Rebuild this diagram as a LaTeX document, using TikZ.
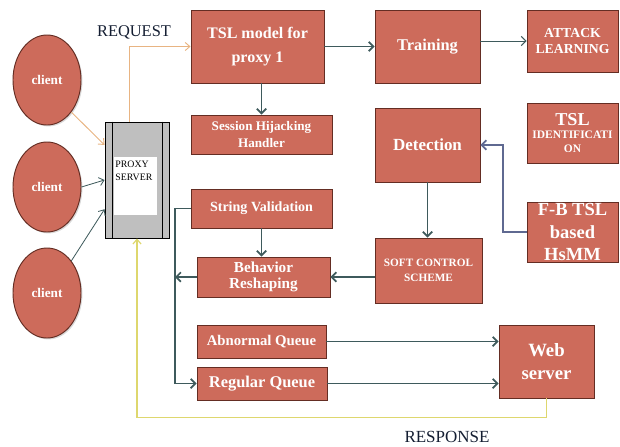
\documentclass[tikz,border=0pt]{standalone}
\usepackage{fontspec}
\setmainfont{Liberation Serif}
\usepackage{xcolor}
\usepackage{tikz}
\usetikzlibrary{shapes.geometric, arrows.meta, positioning, calc, shadows}
\definecolor{boxred}{RGB}{205, 107, 91}
\definecolor{boxline}{RGB}{100, 45, 35}
\definecolor{linkteal}{RGB}{62, 90, 92}
\definecolor{fbblue}{RGB}{95, 105, 145}
\definecolor{reqorange}{RGB}{232, 180, 130}
\definecolor{respyellow}{RGB}{222, 215, 110}
\definecolor{labelnavy}{RGB}{20, 30, 50}
\newcommand{\fsz}[2]{\fontsize{#1}{#2}\selectfont\bfseries}

\begin{document}
\begin{tikzpicture}[x=0.03cm, y=-0.03cm,
    box/.style={draw=boxline, fill=boxred, line width=0.8pt, text=white, align=center, inner sep=1pt,
        drop shadow={opacity=0.3, shadow xshift=1.2pt, shadow yshift=-1.2pt}},
    client/.style={ellipse, box, minimum width=2.04cm, minimum height=2.7cm, font=\fsz{11.3}{13}},
    link/.style={draw=linkteal, line width=1.4pt, -{Straight Barb[length=4pt, width=8pt]}},
    thinlink/.style={draw=linkteal, line width=0.8pt, -{Straight Barb[length=4pt, width=8pt]}},
    caption/.style={text=labelnavy, font=\fontsize{14}{16}\selectfont}]
    \useasboundingbox (0,0) rectangle (620,446);

    % Clients and the proxy
    \node[client] (c1) at (47,80) {client};
    \node[client] (c2) at (47,187) {client};
    \node[client] (c3) at (47,293) {client};

    \node[draw=black, fill=black!25, line width=0.8pt, minimum width=1.92cm, minimum height=3.48cm] (proxy) at (137,180) {};
    \draw[line width=0.8pt] ([xshift=0.24cm]proxy.north west) -- ([xshift=0.24cm]proxy.south west);
    \draw[line width=0.8pt] ([xshift=-0.21cm]proxy.north east) -- ([xshift=-0.21cm]proxy.south east);
    \fill[white] (114,157) rectangle (157,215);
    \node[anchor=north west, align=left, inner sep=1pt, font=\fontsize{8.4}{11}\selectfont] (proxytext) at (114,160) {PROXY\\SERVER};

    % Processing blocks
    \node[box, minimum width=3.99cm, minimum height=2.19cm, font=\fsz{13.7}{21}] (tsl) at (257.5,46.5) {TSL model for\\proxy 1};
    \node[box, minimum width=3.15cm, minimum height=2.19cm, font=\fsz{14}{16}] (train) at (427.5,46.5) {Training};
    \node[box, minimum width=2.73cm, minimum height=1.86cm, font=\fsz{11.7}{14}] (attack) at (572.5,41) {ATTACK\\LEARNING};
    \node[box, minimum width=4.23cm, minimum height=1.17cm, font=\fsz{11.2}{14}] (session) at (261.5,134.5) {Session Hijacking\\Handler};
    \node[box, minimum width=3.15cm, minimum height=2.22cm, font=\fsz{14.5}{16}] (detect) at (427.5,145) {Detection};
    \node[box, minimum width=2.73cm, minimum height=1.8cm, font=\fsz{9.8}{11.5}] (tslid) at (572.5,133) {{\fontsize{15.5}{17}\selectfont TSL}\\IDENTIFICATI\\ON};
    \node[box, minimum width=4.23cm, minimum height=1.17cm, font=\fsz{12}{14}] (strval) at (261.5,208.5) {String Validation};
    \node[box, minimum width=2.73cm, minimum height=1.8cm, font=\fsz{15.8}{19}] (fbtsl) at (572.5,232) {F-B TSL\\based\\HsMM};
    \node[box, minimum width=3.21cm, minimum height=1.95cm, font=\fsz{9.6}{13}] (soft) at (428.5,270.5) {SOFT CONTROL\\SCHEME};
    \node[box, minimum width=3.99cm, minimum height=1.2cm, font=\fsz{13}{14}] (behav) at (263.5,277) {Behavior\\Reshaping};
    \node[box, minimum width=3.87cm, minimum height=0.99cm, font=\fsz{12.6}{14}] (abn) at (261.5,341.5) {Abnormal Queue};
    \node[box, minimum width=3.9cm, minimum height=0.99cm, font=\fsz{14}{16}] (reg) at (262,383.5) {Regular Queue};
    \node[box, minimum width=2.85cm, minimum height=2.19cm, font=\fsz{16}{19}] (web) at (546.5,361.5) {Web\\server};

    % Labels
    \node[caption] (reqlabel) at (134,32) {REQUEST};
    \node[caption, font=\fontsize{14.5}{16}\selectfont] (resplabel) at (447,437) {RESPONSE};

    % Client links
    \draw[draw=reqorange, line width=0.8pt, -{Straight Barb[length=4pt, width=7pt]}] (c1.south east) -- ($(proxy.north west)!0.2!(proxy.south west)$);
    \draw[draw=linkteal, line width=0.7pt, -{Straight Barb[length=4pt, width=7pt]}] (c2.east) -- (proxy.west);
    \draw[draw=linkteal, line width=0.7pt, -{Straight Barb[length=4pt, width=7pt]}] (c3.north east) -- ($(proxy.north west)!0.75!(proxy.south west)$);

    % Request and response
    \draw[draw=reqorange, line width=0.8pt, -{Straight Barb[length=4pt, width=7pt]}] ([xshift=-0.24cm]proxy.north) |- (tsl.west);
    \draw[draw=respyellow, line width=1pt, -{Straight Barb[length=4pt, width=7pt]}] (web.south) -- ++(0,19) -| (proxy.south);

    % Flow between blocks
    \draw[link] (tsl) -- (train);
    \draw[thinlink] (train.east |- attack.west) -- (attack.west);
    \draw[link] (tsl.south -| session.north) -- (session.north);
    \coordinate (fbbend) at (503,232);
    \draw[draw=fbblue, line width=1.4pt, -{Straight Barb[length=4pt, width=8pt]}] (fbtsl.west) -- (fbbend) |- (detect.east);
    \draw[link] (detect.south) -- (detect.south |- soft.north);
    \draw[link] (soft.west |- behav.east) -- (behav.east);
    \draw[link] (strval.south) -- (strval.south |- behav.north);
    \coordinate (bustop) at (175,208.5);
    \draw[link] (strval.west) -- (bustop) |- (reg.west);
    \draw[link] (behav.west) -- (behav.west -| bustop);
    \draw[link] (abn.east) -- (abn.east -| web.west);
    \draw[link] (reg.east) -- (reg.east -| web.west);
\end{tikzpicture}
\end{document}
